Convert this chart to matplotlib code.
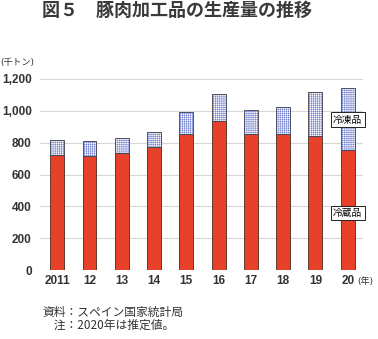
import numpy as np
import matplotlib.pyplot as plt

plt.rcParams['font.family'] = ['Noto Sans CJK JP', 'DejaVu Sans']
plt.rcParams['hatch.linewidth'] = 0.4

# データ（千トン）
years = ['2011', '12', '13', '14', '15', '16', '17', '18', '19', '20']
reizo = [723, 717, 737, 772, 856, 936, 856, 856, 843, 751]      # 冷蔵品
total = [814, 811, 828, 870, 990, 1108, 1007, 1024, 1116, 1143]
reito = [t - r for t, r in zip(total, reizo)]                    # 冷凍品
yticks = [0, 200, 400, 600, 800, 1000, 1200]

fig = plt.figure(figsize=(3.78, 3.39), dpi=100)
ax = fig.add_axes([0.106, 0.2035, 0.854, 0.5635])

x = np.arange(len(years))
ax.bar(x, reizo, width=0.43, color='#e8412a', edgecolor='#4a2a22', lw=0.6, zorder=3)
ax.bar(x, reito, width=0.43, bottom=reizo, color='white', edgecolor='#3a3a4a',
       lw=0.6, hatch='++++++++', zorder=3)
for p in ax.patches[len(years):]:
    p._hatch_color = (0.48, 0.53, 0.82, 1.0)

ax.set_xlim(-0.53, 9.47)
ax.set_ylim(0, 1200)
ax.set_yticks(yticks)
ax.set_yticklabels([f'{v:,}' for v in yticks])
ax.set_xticks(x)
ax.set_xticklabels(years)
ax.grid(axis='y', color='#d6d6d6', lw=0.8, zorder=0)
for s in ax.spines.values():
    s.set_visible(False)
ax.tick_params(axis='y', length=0, pad=6)
ax.tick_params(axis='x', length=0, pad=3.5)
for t in ax.get_xticklabels() + ax.get_yticklabels():
    t.set_family(['Liberation Sans'])
    t.set_fontweight('bold')
    t.set_fontsize(8.5)
    t.set_color('#333333')

box = dict(boxstyle='square,pad=0.25', fc='white', ec='#222222', lw=0.7)
ax.text(9, 943, '冷凍品', fontsize=7, ha='center', va='center', bbox=box, zorder=5)
ax.text(9, 358, '冷蔵品', fontsize=7, ha='center', va='center', bbox=box, zorder=5)

fig.text(0.111, 0.97, '図５　豚肉加工品の生産量の推移', fontsize=13, fontweight='bold',
         color='#3a3a3a', va='center')
fig.text(0.0, 0.815, '(千トン)', fontsize=6.5, color='#333333', va='center',
         family=['DejaVu Sans', 'Noto Sans CJK JP'])
fig.text(0.945, 0.171, '(年)', fontsize=6.5, color='#333333', va='center',
         family=['DejaVu Sans', 'Noto Sans CJK JP'])
fig.text(0.111, 0.079, '資料：スペイン国家統計局', fontsize=8.5, color='#333333', va='center')
fig.text(0.111, 0.040, '\u3000注：2020年は推定値。', fontsize=8.5, color='#333333', va='center')

fig.savefig('out.png', dpi=100)
